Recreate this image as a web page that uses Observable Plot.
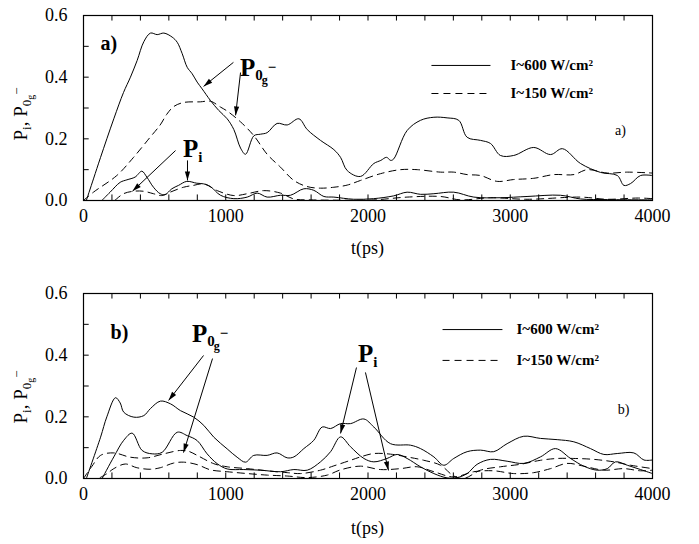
<!DOCTYPE html>
<html><head><meta charset="utf-8">
<script src="https://cdn.jsdelivr.net/npm/d3@7"></script>
<script src="https://cdn.jsdelivr.net/npm/@observablehq/plot@0.6"></script>
<style>body{margin:0;background:#fff} #chart svg{display:block}</style>
</head><body><div id="chart"></div>
<script>
// ---------- data: [t (ps), probability] ----------
const aSolidP0 = [[20,0],[70,0.07],[120,0.14],[213,0.265],[281,0.35],[330,0.40],[377,0.454],[424,0.515],[471,0.543],[518,0.538],[565,0.543],[623,0.53],[659,0.513],[694,0.476],[729,0.432],[764,0.411],[799,0.384],[834,0.362],[893,0.324],[951,0.292],[1010,0.265],[1057,0.23],[1104,0.17],[1139,0.15],[1198,0.21],[1244,0.215],[1291,0.22],[1361,0.25],[1432,0.245],[1514,0.265],[1573,0.23],[1666,0.195],[1760,0.165],[1807,0.14],[1854,0.097],[1947,0.078],[2041,0.12],[2090,0.13],[2130,0.14],[2160,0.13],[2181,0.135],[2275,0.227],[2369,0.26],[2463,0.27],[2556,0.268],[2638,0.26],[2697,0.205],[2791,0.195],[2861,0.185],[2931,0.146],[3024,0.146],[3165,0.172],[3283,0.149],[3367,0.168],[3494,0.12],[3635,0.091],[3753,0.081],[3799,0.049],[3846,0.055],[3916,0.081],[4000,0.081]];
const aDashP0 = [[0,0],[70,0.027],[234,0.081],[352,0.14],[468,0.205],[539,0.245],[586,0.28],[635,0.305],[705,0.318],[822,0.32],[893,0.322],[963,0.303],[1010,0.29],[1104,0.255],[1198,0.21],[1291,0.15],[1385,0.108],[1479,0.065],[1573,0.045],[1666,0.04],[1760,0.043],[1854,0.05],[1947,0.065],[2088,0.087],[2228,0.1],[2346,0.1],[2510,0.092],[2603,0.092],[2697,0.084],[2791,0.081],[2908,0.062],[3024,0.068],[3165,0.072],[3306,0.084],[3447,0.084],[3541,0.1],[3682,0.089],[3823,0.092],[4000,0.089]];
const aSolidPi = [[129,0],[187,0.027],[258,0.059],[305,0.067],[363,0.076],[410,0.095],[445,0.076],[492,0.043],[539,0.022],[574,0.019],[621,0.038],[668,0.049],[726,0.062],[797,0.056],[844,0.054],[893,0.045],[963,0.017],[1057,0.006],[1151,0.011],[1221,0.024],[1291,0.011],[1385,0.017],[1455,0.017],[1549,0.038],[1619,0.033],[1690,0.013],[1760,0.011],[1900,0.004],[2040,0.006],[2180,0.015],[2275,0.027],[2370,0.02],[2463,0.022],[2603,0.027],[2744,0.011],[2931,0.009],[3118,0.013],[3353,0.017],[3494,0.005],[3682,0.003],[4000,0.002]];
const aDashPi = [[220,0],[281,0.022],[352,0.03],[422,0.03],[492,0.022],[550,0.016],[609,0.027],[703,0.043],[773,0.049],[846,0.054],[940,0.032],[1057,0.016],[1151,0.022],[1268,0.032],[1385,0.024],[1479,0.005],[1600,0.002],[1800,0.001],[2041,0.002],[2275,0.011],[2510,0.013],[2650,0.002],[2861,0.009],[3118,0.004],[3494,0.011],[3682,0.004],[3900,0.008],[4000,0.006]];

const bSolidP0 = [[20,0],[120,0.134],[164,0.2],[225,0.262],[258,0.245],[283,0.215],[354,0.199],[424,0.204],[471,0.227],[541,0.251],[612,0.242],[682,0.22],[775,0.199],[846,0.172],[916,0.134],[1010,0.096],[1080,0.069],[1139,0.053],[1197,0.075],[1291,0.075],[1361,0.083],[1432,0.067],[1479,0.07],[1549,0.097],[1619,0.124],[1678,0.167],[1737,0.162],[1807,0.178],[1877,0.178],[1971,0.193],[2041,0.167],[2158,0.113],[2299,0.108],[2369,0.097],[2463,0.07],[2533,0.043],[2603,0.065],[2697,0.087],[2791,0.092],[2884,0.087],[2978,0.113],[3095,0.137],[3212,0.13],[3330,0.126],[3447,0.119],[3564,0.097],[3658,0.078],[3752,0.081],[3869,0.083],[3940,0.06],[4000,0.06]];
const bSolidPi = [[131,0],[213,0.07],[283,0.124],[342,0.147],[412,0.091],[483,0.08],[553,0.085],[659,0.15],[729,0.139],[799,0.123],[869,0.08],[940,0.048],[1010,0.031],[1127,0.029],[1244,0.027],[1385,0.022],[1479,0.029],[1573,0.027],[1666,0.054],[1737,0.087],[1807,0.135],[1877,0.103],[1971,0.065],[2041,0.054],[2134,0.065],[2205,0.078],[2275,0.065],[2369,0.038],[2463,0.016],[2556,0.002],[2627,0.003],[2697,0.016],[2767,0.046],[2861,0.062],[2978,0.056],[3095,0.049],[3212,0.07],[3318,0.097],[3424,0.065],[3517,0.04],[3611,0.027],[3682,0.032],[3740,0.054],[3823,0.043],[3916,0.029],[4000,0.016]];
const bDashP0 = [[0,0],[60,0.04],[120,0.075],[213,0.083],[330,0.069],[447,0.067],[564,0.08],[682,0.091],[740,0.088],[799,0.075],[916,0.048],[1010,0.038],[1151,0.032],[1291,0.025],[1432,0.019],[1526,0.016],[1666,0.027],[1760,0.041],[1877,0.059],[1947,0.07],[2041,0.081],[2158,0.079],[2275,0.07],[2393,0.059],[2510,0.043],[2603,0.008],[2674,0],[2791,0.027],[2931,0.038],[3071,0.046],[3212,0.059],[3330,0.065],[3447,0.065],[3588,0.062],[3728,0.054],[3846,0.043],[4000,0.032]];
const bDashPi = [[117,0.003],[166,0.016],[213,0.032],[294,0.047],[375,0.035],[469,0.03],[540,0.035],[633,0.05],[704,0.053],[799,0.045],[893,0.028],[1010,0.022],[1151,0.016],[1291,0.011],[1432,0.008],[1573,0.003],[1713,0.011],[1807,0.028],[1947,0.04],[2088,0.029],[2228,0.032],[2346,0.038],[2463,0.022],[2603,0.005],[2744,0.022],[2884,0.025],[3024,0.016],[3165,0.019],[3283,0.032],[3400,0.049],[3517,0.04],[3658,0.027],[3799,0.032],[3916,0.025],[4000,0.027]];

// ticks
const xTickLabels = [0, 1000, 2000, 3000, 4000];
const xMinorTicks = [0,200,400,600,800,1000,1200,1400,1600,1800,2000,2200,2400,2600,2800,3000,3200,3400,3600,3800,4000];
const yTickLabels = [0, 0.2, 0.4, 0.6];
const yMinorTicks = [0, 0.1, 0.2, 0.3, 0.4, 0.5, 0.6];

// legend texts
const legendLabels = ["I~600 W/cm\u00B2", "I~150 W/cm\u00B2"];

// annotation arrows (data coords)
const aArrows = [
  {x1:1054,y1:0.448,x2:844,y2:0.370},
  {x1:1104,y1:0.415,x2:1069,y2:0.276},
  {x1:647,y1:0.162,x2:344,y2:0.030},
  {x1:731,y1:0.13,x2:731,y2:0.065}
];
const bArrows = [
  {x1:844,y1:0.399,x2:598,y2:0.253},
  {x1:907,y1:0.389,x2:703,y2:0.084},
  {x1:1919,y1:0.36,x2:1807,y2:0.146},
  {x1:1982,y1:0.344,x2:2144,y2:0.026}
];

const FONT = "'Liberation Serif', Tinos, 'Times New Roman', serif";
const rows = arr => arr.map(([t, p]) => ({t, p}));

function richText(parent, x, y, parts, opts = {}) {
  const txt = parent.append("text")
    .attr("x", x).attr("y", y)
    .style("font-family", FONT)
    .attr("font-weight", opts.bold ? "bold" : "normal")
    .attr("fill", "black")
    .attr("text-anchor", opts.anchor || "start");
  if (opts.rotate) txt.attr("transform", `rotate(${opts.rotate},${x},${y})`);
  let cur = 0;
  for (const p of parts) {
    const off = p.off || 0;
    txt.append("tspan").attr("font-size", p.size).attr("dy", off - cur).attr("dx", p.dx || 0).text(p.t);
    cur = off;
  }
  return txt;
}

function panel(cfg) {
  const dash = "7,5";
  const L = cfg.legend;
  const plot = Plot.plot({
    width: 699, height: cfg.height,
    marginLeft: 83, marginRight: 47, marginTop: cfg.mt, marginBottom: cfg.mb,
    style: {fontFamily: FONT, fontSize: "18px", color: "black", background: "white", overflow: "visible"},
    x: {domain: [0, 4000]},
    y: {domain: [0, 0.6]},
    marks: [
      Plot.line(rows(cfg.solidP0), {x: "t", y: "p", stroke: "black", strokeWidth: 1, curve: "catmull-rom", clip: true}),
      Plot.line(rows(cfg.solidPi), {x: "t", y: "p", stroke: "black", strokeWidth: 1, curve: "catmull-rom", clip: true}),
      Plot.line(rows(cfg.dashP0), {x: "t", y: "p", stroke: "black", strokeWidth: 1, strokeDasharray: dash, curve: "catmull-rom", clip: true}),
      Plot.line(rows(cfg.dashPi), {x: "t", y: "p", stroke: "black", strokeWidth: 1, strokeDasharray: dash, curve: "catmull-rom", clip: true}),
      Plot.ruleX(xMinorTicks, {x: d => d, y1: 0, y2: 0.018, stroke: "black", strokeWidth: 1}),
      Plot.ruleX(xMinorTicks, {x: d => d, y1: 0.6, y2: 0.582, stroke: "black", strokeWidth: 1}),
      Plot.ruleY(yMinorTicks, {y: d => d, x1: 0, x2: 40, stroke: "black", strokeWidth: 1}),
      Plot.frame({stroke: "black", strokeWidth: 1.2}),
      Plot.axisX({ticks: xTickLabels, tickSize: 0, tickPadding: 9, label: null, tickFormat: d => String(d)}),
      Plot.axisY({ticks: yTickLabels, tickSize: 0, tickPadding: 16, label: null, tickFormat: d => d.toFixed(1)}),
      Plot.link(cfg.arrows, {x1: "x1", y1: "y1", x2: "x2", y2: "y2", stroke: "black", strokeWidth: 1, markerEnd: "arrow"}),
      Plot.link([L.solid], {x1: "x1", x2: "x2", y1: "y", y2: "y", stroke: "black", strokeWidth: 1}),
      Plot.link([L.dash], {x1: "x1", x2: "x2", y1: "y", y2: "y", stroke: "black", strokeWidth: 1, strokeDasharray: dash}),
      Plot.text([{x: L.tx, y: L.solid.y, s: legendLabels[0]}, {x: L.tx, y: L.dash.y, s: legendLabels[1]}],
        {x: "x", y: "y", text: "s", textAnchor: "start", lineAnchor: "middle", fontSize: 15, fontWeight: "bold", fill: "black"}),
      Plot.text([cfg.tag], {x: "x", y: "y", text: "s", textAnchor: "start", lineAnchor: "middle", fontSize: 20, fontWeight: "bold", fill: "black"}),
      Plot.text([cfg.smallTag], {x: "x", y: "y", text: "s", textAnchor: "middle", lineAnchor: "middle", fontSize: 14, fill: "black"})
    ]
  });
  const svg = d3.select(plot.tagName === "svg" ? plot : plot.querySelector("svg"));
  // filled arrow heads
  svg.selectAll("marker")
    .attr("viewBox", "-10 -5 10 10").attr("markerWidth", 10).attr("markerHeight", 10)
    .attr("fill", "black").attr("stroke", "none")
    .selectAll("path").attr("d", "M-9,-2.6L0,0L-9,2.6Z");
  const sx = plot.scale("x"), sy = plot.scale("y");
  const fx = d3.scaleLinear(sx.domain, sx.range), fy = d3.scaleLinear(sy.domain, sy.range);
  // axis titles
  richText(svg, 27, cfg.ylabelY, [
    {t: "P", size: 19}, {t: "i", size: 13, off: 4}, {t: ", P", size: 19, off: 0},
    {t: "0", size: 13, off: 4}, {t: "g", size: 10, off: 7}, {t: "\u2212", size: 13, off: -6}
  ], {anchor: "middle", rotate: -90});
  svg.append("text").attr("x", fx(2000)).attr("y", cfg.xlabelY).attr("text-anchor", "middle")
    .style("font-family", FONT).attr("font-size", 18).attr("fill", "black").text("t(ps)");
  // annotation labels P_0g^- and P_i
  const P0 = cfg.p0Label, Pi = cfg.piLabel;
  richText(svg, fx(P0.x), fy(P0.y), [
    {t: "P", size: 25}, {t: "0", size: 15, off: 4}, {t: "g", size: 12, off: 8, dx: -1}, {t: "\u2212", size: 15, off: -4}
  ], {bold: true});
  richText(svg, fx(Pi.x), fy(Pi.y), [
    {t: "P", size: 25}, {t: "i", size: 15, off: 5}
  ], {bold: true});
  return plot;
}

const chart = document.getElementById("chart");
chart.appendChild(panel({
  height: 270, mt: 15, mb: 70,
  solidP0: aSolidP0, dashP0: aDashP0, solidPi: aSolidPi, dashPi: aDashPi,
  arrows: aArrows,
  legend: {solid: {x1: 2446, x2: 2861, y: 0.438}, dash: {x1: 2446, x2: 2861, y: 0.347}, tx: 3002},
  tag: {x: 120, y: 0.509, s: "a)"},
  smallTag: {x: 3775, y: 0.227, s: "a)"},
  p0Label: {x: 1104, y: 0.402},
  piLabel: {x: 703, y: 0.139},
  ylabelY: 114, xlabelY: 254
}));
chart.appendChild(panel({
  height: 274, mt: 23, mb: 66,
  solidP0: bSolidP0, dashP0: bDashP0, solidPi: bSolidPi, dashPi: bDashPi,
  arrows: bArrows,
  legend: {solid: {x1: 2524, x2: 2945, y: 0.483}, dash: {x1: 2524, x2: 2945, y: 0.383}, tx: 3044},
  tag: {x: 190, y: 0.474, s: "b)"},
  smallTag: {x: 3796, y: 0.224, s: "b)"},
  p0Label: {x: 766, y: 0.441},
  piLabel: {x: 1933, y: 0.376},
  ylabelY: 127, xlabelY: 264
}));
</script>
</body></html>
